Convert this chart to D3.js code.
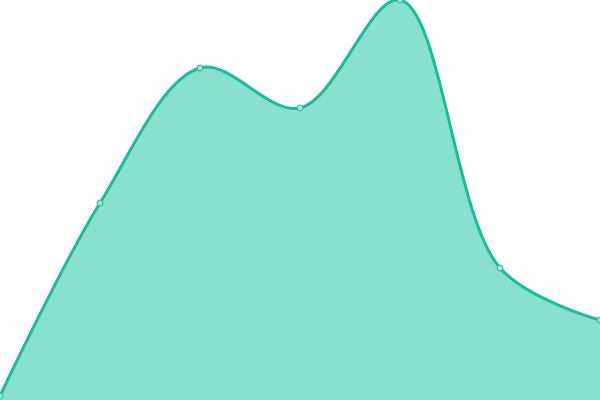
<!DOCTYPE html>
<html>
<head>
<meta charset="utf-8">
<script src="https://cdn.jsdelivr.net/npm/d3@7"></script>
<style>
  html, body { margin: 0; padding: 0; background: #fff; overflow: hidden; }
  svg { display: block; }
</style>
</head>
<body>
<svg id="chart"></svg>
<script>
// data
var categories = [ 0, 1, 2, 3, 4, 5, 6 ];
var values     = [ 1, 49.25, 83, 73, 100, 33, 20 ];

var width  = 600,
    height = 400;

var lineColor = '#1abc9c',
    areaColor = '#89e0cf';

var svg = d3.select( '#chart' )
            .attr( 'width', width )
            .attr( 'height', height );

var xScale = d3.scaleLinear()
               .domain( d3.extent( categories ) )
               .range( [ 0, width ] );

var yScale = d3.scaleLinear()
               .domain( [ 0, 100 ] )
               .range( [ height, 0 ] );

var data = categories.map( function( c, i ) {
  return { x : c, y : values[ i ] };
});

var area = d3.area()
             .curve( d3.curveCatmullRom )
             .x( function( d ) { return xScale( d.x ); } )
             .y0( height )
             .y1( function( d ) { return yScale( d.y ); } );

var line = d3.line()
             .curve( d3.curveCatmullRom )
             .x( function( d ) { return xScale( d.x ); } )
             .y( function( d ) { return yScale( d.y ); } );

svg.append( 'path' )
   .datum( data )
   .attr( 'd', area )
   .attr( 'fill', areaColor );

svg.append( 'path' )
   .datum( data )
   .attr( 'd', line )
   .attr( 'fill', 'none' )
   .attr( 'stroke', lineColor )
   .attr( 'stroke-width', 3 );

svg.selectAll( '.pt' )
   .data( data )
   .enter()
   .append( 'circle' )
   .attr( 'class', 'pt' )
   .attr( 'cx', function( d ) { return xScale( d.x ); } )
   .attr( 'cy', function( d ) { return yScale( d.y ); } )
   .attr( 'r', 3 )
   .attr( 'fill', '#9ee6d8' )
   .attr( 'stroke', lineColor )
   .attr( 'stroke-width', 1 );
</script>
</body>
</html>
